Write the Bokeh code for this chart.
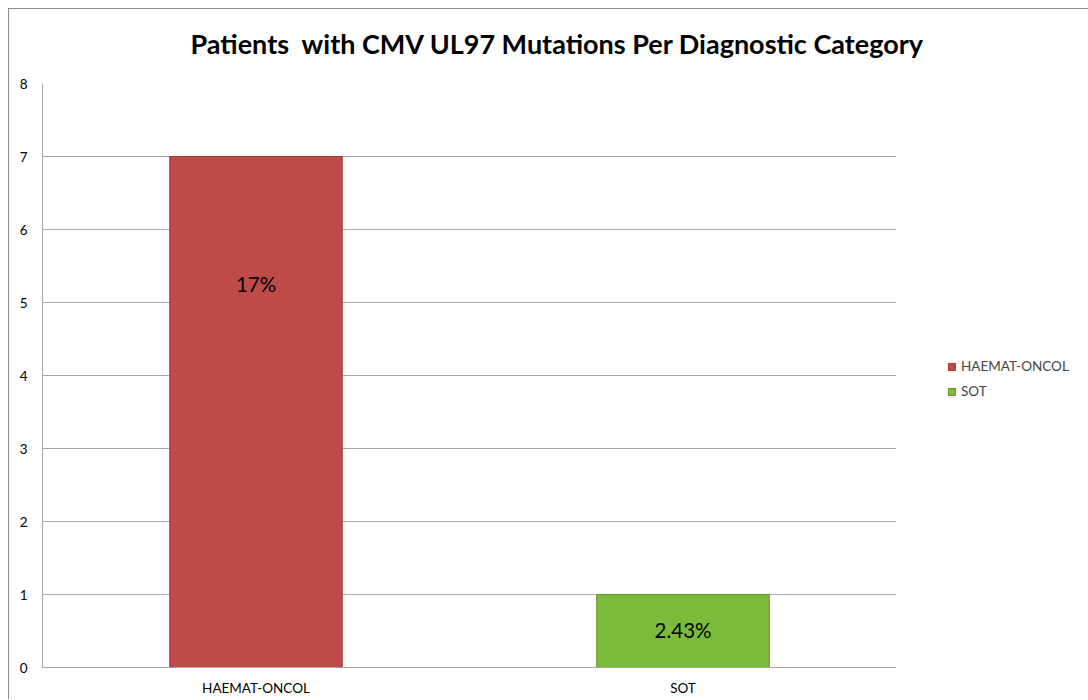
from bokeh.plotting import figure
from bokeh.layouts import row, column
from bokeh.models import ColumnDataSource, FactorRange, Range1d, Legend, LegendItem, SingleIntervalTicker
from bokeh.core.properties import value
from bokeh.embed import file_html
from bokeh.resources import INLINE

categories = ["HAEMAT-ONCOL", "SOT"]
patients = [7, 1]
pct_labels = ["17%", "2.43%"]
label_y = [5.25, 0.52]
bar_colors = ["#BE4B48", "#7CBB39"]
edge_colors = ["#9E3A38", "#5F9328"]
title_text = "Patients\u00a0 with CMV UL97 Mutations Per Diagnostic Category"

FONT = "Lato"

src = ColumnDataSource(dict(cat=categories, n=patients, lab=pct_labels, ly=label_y,
                            fill=bar_colors, edge=edge_colors))

# ---- title strip ----
t = figure(width=1080, height=58, output_backend="svg", toolbar_location=None,
           x_range=Range1d(0, 1), y_range=Range1d(0, 1),
           min_border_left=33, min_border_right=0, min_border_top=50, min_border_bottom=0)
t.axis.visible = False
t.grid.visible = False
t.outline_line_color = None
t.title.text = title_text
t.title.text_font = FONT
t.title.text_font_style = "bold"
t.title.text_font_size = "27px"
t.title.align = "left"
t.title.offset = 148
t.title.standoff = 0
t.title.text_color = "#000000"

# ---- main chart ----
p = figure(x_range=FactorRange(*categories, range_padding=0), y_range=Range1d(0, 8),
           width=887, height=632, output_backend="svg", toolbar_location=None,
           min_border_left=33, min_border_right=0, min_border_top=16, min_border_bottom=32)

r = p.vbar(x="cat", top="n", width=0.404, source=src, fill_color="fill", line_color="edge",
           line_width=1)

p.text(x="cat", y="ly", text="lab", source=src, text_align="center", text_baseline="middle",
       text_font=value(FONT), text_font_size="20.5px", text_color="#000000")

p.yaxis.ticker = SingleIntervalTicker(interval=1)
p.yaxis.major_tick_line_color = None
p.yaxis.minor_tick_line_color = None
p.yaxis.axis_line_color = "#a6a6a6"
p.yaxis.major_label_standoff = 9
p.yaxis.major_label_text_font = FONT
p.yaxis.major_label_text_font_size = "13.5px"
p.yaxis.major_label_text_color = "#000000"

p.xaxis.major_tick_line_color = None
p.xaxis.axis_line_color = "#a6a6a6"
p.xaxis.major_label_standoff = 6
p.xaxis.major_label_text_font = FONT
p.xaxis.major_label_text_font_size = "13.5px"
p.xaxis.major_label_text_color = "#000000"

p.xgrid.grid_line_color = None
p.ygrid.grid_line_color = "#a6a6a6"
p.outline_line_color = None

# ---- legend panel ----
q = figure(x_range=FactorRange(*categories, range_padding=0), y_range=Range1d(0, 8),
           width=193, height=632, output_backend="svg", toolbar_location=None,
           min_border_left=0, min_border_right=0, min_border_top=0, min_border_bottom=0)
q.axis.visible = False
q.grid.visible = False
q.outline_line_color = None
rq = q.vbar(x="cat", top="n", width=0.404, source=src, fill_color="fill", line_color="edge",
            line_width=1)
rq.visible = False

legend = Legend(items=[LegendItem(label=categories[i], renderers=[rq], index=i) for i in range(2)],
                location=(51, 268), glyph_width=9, glyph_height=9, spacing=9, padding=0, margin=0,
                label_text_font=FONT, label_text_font_size="13.5px", label_standoff=5,
                border_line_color=None, background_fill_alpha=0, label_height=13,
                inactive_fill_alpha=0)
q.add_layout(legend)

layout = column(t, row(p, q, spacing=0), spacing=0)
layout.styles = {"margin-left": "8px", "margin-top": "8px",
                 "border-left": "1px solid #8c8c8c", "border-top": "1px solid #8c8c8c"}

open("out.html", "w").write(file_html(layout, INLINE))
